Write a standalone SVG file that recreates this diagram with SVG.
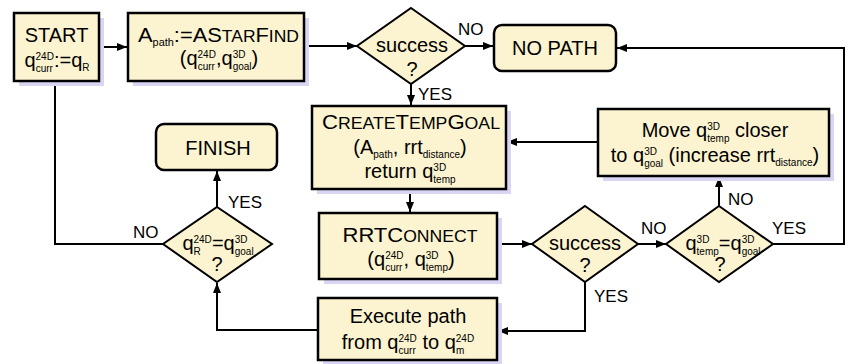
<svg xmlns="http://www.w3.org/2000/svg" width="848" height="364" viewBox="0 0 848 364">
<defs>
<style>
.box{fill:#fcf4d0;stroke:#000;stroke-width:2.5}
.rbox{fill:#fcf4d0;stroke:#000;stroke-width:2.5}
.shadow{fill:#d9d5f3}
.dia{fill:#fcf4d0;stroke:#000;stroke-width:2}
.conn{fill:none;stroke:#000;stroke-width:2}
.arr{marker-end:url(#arr)}
text{font-family:"Liberation Sans",Arial,Helvetica,sans-serif;font-size:20px;fill:#000;text-anchor:middle}
text.lbl{font-size:17px;text-anchor:start}
.s{font-size:10px}
.sc{font-size:16px}
</style>
<marker id="arr" viewBox="0 0 10 8" refX="10" refY="4" markerWidth="10" markerHeight="8" markerUnits="userSpaceOnUse" orient="auto">
<path d="M0,0 L10,4 L0,8 z" fill="#000"/>
</marker>
</defs>
<rect width="848" height="364" fill="#fff"/>

<g id="connectors">
<path class="conn arr" d="M99,47 H127"/>
<path class="conn arr" d="M304,46 H357"/>
<path class="conn arr" d="M465,46 H493"/>
<path class="conn arr" d="M411,84 V105"/>
<path class="conn arr" d="M410,189 V212"/>
<path class="conn arr" d="M497,244 H532"/>
<path class="conn arr" d="M638,244 H666"/>
<path class="conn arr" d="M719,206 V177"/>
<path class="conn arr" d="M598,142 H507"/>
<path class="conn arr" d="M773,244 H844 V48 H617"/>
<path class="conn arr" d="M585,282 V331 H498"/>
<path class="conn arr" d="M318,330 H217 V283"/>
<path class="conn arr" d="M217,207 V171"/>
<path class="conn" d="M163,244 H55 V82"/>
<text class="lbl" x="458" y="35">NO</text>
<text class="lbl" x="418" y="100">YES</text>
<text class="lbl" x="641" y="234">NO</text>
<text class="lbl" x="728" y="205">NO</text>
<text class="lbl" x="772" y="234">YES</text>
<text class="lbl" x="594" y="302">YES</text>
<text class="lbl" x="228" y="208">YES</text>
<text class="lbl" x="133" y="238">NO</text>
</g>

<g id="start">
<rect class="shadow" x="19" y="18" width="85" height="68"/>
<rect class="box" x="14" y="13" width="85" height="68"/>
<text x="56.5" y="42">START</text>
<text x="57" y="67">q<tspan class="s" dy="-7">24D</tspan><tspan class="s" dx="-18.3" dy="12">curr</tspan><tspan dx="1.1" dy="-5">:=q</tspan><tspan class="s" dy="4">R</tspan></text>
</g>

<g id="astarfind">
<rect class="shadow" x="133" y="18" width="176" height="68"/>
<rect class="box" x="128" y="13" width="176" height="68"/>
<text x="218.5" y="42" textLength="161" lengthAdjust="spacingAndGlyphs">A<tspan class="s" dy="4">path</tspan><tspan dy="-4">:=A</tspan>S<tspan class="sc">TAR</tspan>F<tspan class="sc">IND</tspan></text>
<text x="219" y="65">(q<tspan class="s" dy="-7">24D</tspan><tspan class="s" dx="-18.3" dy="12">curr</tspan><tspan dx="1.1" dy="-5">,q</tspan><tspan class="s" dy="-7">3D</tspan><tspan class="s" dx="-12.8" dy="12">goal</tspan><tspan dy="-5">)</tspan></text>
</g>

<g id="success1">
<polygon class="dia" points="411,8 465,46 411,84 357,46"/>
<text x="412" y="52">success</text>
<text x="412" y="76">?</text>
</g>

<g id="nopath">
<rect class="rbox" x="494" y="25" width="122" height="46" rx="8"/>
<text x="555" y="55">NO PATH</text>
</g>

<g id="createtempgoal">
<rect class="shadow" x="317" y="111" width="194" height="83"/>
<rect class="box" x="312" y="106" width="194" height="83"/>
<text x="411" y="129" textLength="178" lengthAdjust="spacingAndGlyphs">C<tspan class="sc">REATE</tspan>T<tspan class="sc">EMP</tspan>G<tspan class="sc">OAL</tspan></text>
<text x="410" y="154">(A<tspan class="s" dy="4">path</tspan><tspan dy="-4">, rrt</tspan><tspan class="s" dy="4">distance</tspan><tspan dy="-4">)</tspan></text>
<text x="410" y="178">return q<tspan class="s" dy="-7">3D</tspan><tspan class="s" dx="-12.8" dy="12">temp</tspan></text>
</g>

<g id="move">
<rect class="shadow" x="603" y="114" width="231" height="67"/>
<rect class="box" x="598" y="109" width="231" height="67"/>
<text x="715" y="137">Move q<tspan class="s" dy="-7">3D</tspan><tspan class="s" dx="-12.8" dy="12">temp</tspan><tspan dy="-5"> closer</tspan></text>
<text x="715" y="162">to q<tspan class="s" dy="-7">3D</tspan><tspan class="s" dx="-12.8" dy="12">goal</tspan><tspan dy="-5"> (increase rrt</tspan><tspan class="s" dy="4">distance</tspan><tspan dy="-4">)</tspan></text>
</g>

<g id="finish">
<rect class="rbox" x="156" y="124" width="121" height="46" rx="8"/>
<text x="218" y="155">FINISH</text>
</g>

<g id="goalcheck">
<polygon class="dia" points="217,207 272,244 217,282 163,244"/>
<text x="218" y="250">q<tspan class="s" dy="-7">24D</tspan><tspan class="s" dx="-18.3" dy="12">R</tspan><tspan dx="11.1" dy="-5">=q</tspan><tspan class="s" dy="-7">3D</tspan><tspan class="s" dx="-12.8" dy="12">goal</tspan></text>
<text x="217" y="271">?</text>
</g>

<g id="rrtconnect">
<rect class="shadow" x="324" y="218" width="178" height="66"/>
<rect class="box" x="319" y="213" width="178" height="66"/>
<text x="410" y="242" textLength="135" lengthAdjust="spacingAndGlyphs">RRTC<tspan class="sc">ONNECT</tspan></text>
<text x="411" y="266">(q<tspan class="s" dy="-7">24D</tspan><tspan class="s" dx="-18.3" dy="12">curr</tspan><tspan dx="1.1" dy="-5">, q</tspan><tspan class="s" dy="-7">3D</tspan><tspan class="s" dx="-12.8" dy="12">temp</tspan><tspan dy="-5">)</tspan></text>
</g>

<g id="success2">
<polygon class="dia" points="585,206 638,244 585,282 532,244"/>
<text x="585" y="250">success</text>
<text x="585" y="272">?</text>
</g>

<g id="tempcheck">
<polygon class="dia" points="719,206 773,244 719,282 666,244"/>
<text x="723" y="250">q<tspan class="s" dy="-7">3D</tspan><tspan class="s" dx="-12.8" dy="12">temp</tspan><tspan dy="-5">=q</tspan><tspan class="s" dy="-7">3D</tspan><tspan class="s" dx="-12.8" dy="12">goal</tspan></text>
<text x="720" y="271">?</text>
</g>

<g id="execute">
<rect class="shadow" x="323" y="303" width="179" height="62"/>
<rect class="box" x="318" y="298" width="179" height="62"/>
<text x="408" y="323">Execute path</text>
<text x="408" y="349">from q<tspan class="s" dy="-7">24D</tspan><tspan class="s" dx="-18.3" dy="12">curr</tspan><tspan dx="1.1" dy="-5"> to q</tspan><tspan class="s" dy="-7">24D</tspan><tspan class="s" dx="-18.3" dy="12">m</tspan></text>
</g>
</svg>
